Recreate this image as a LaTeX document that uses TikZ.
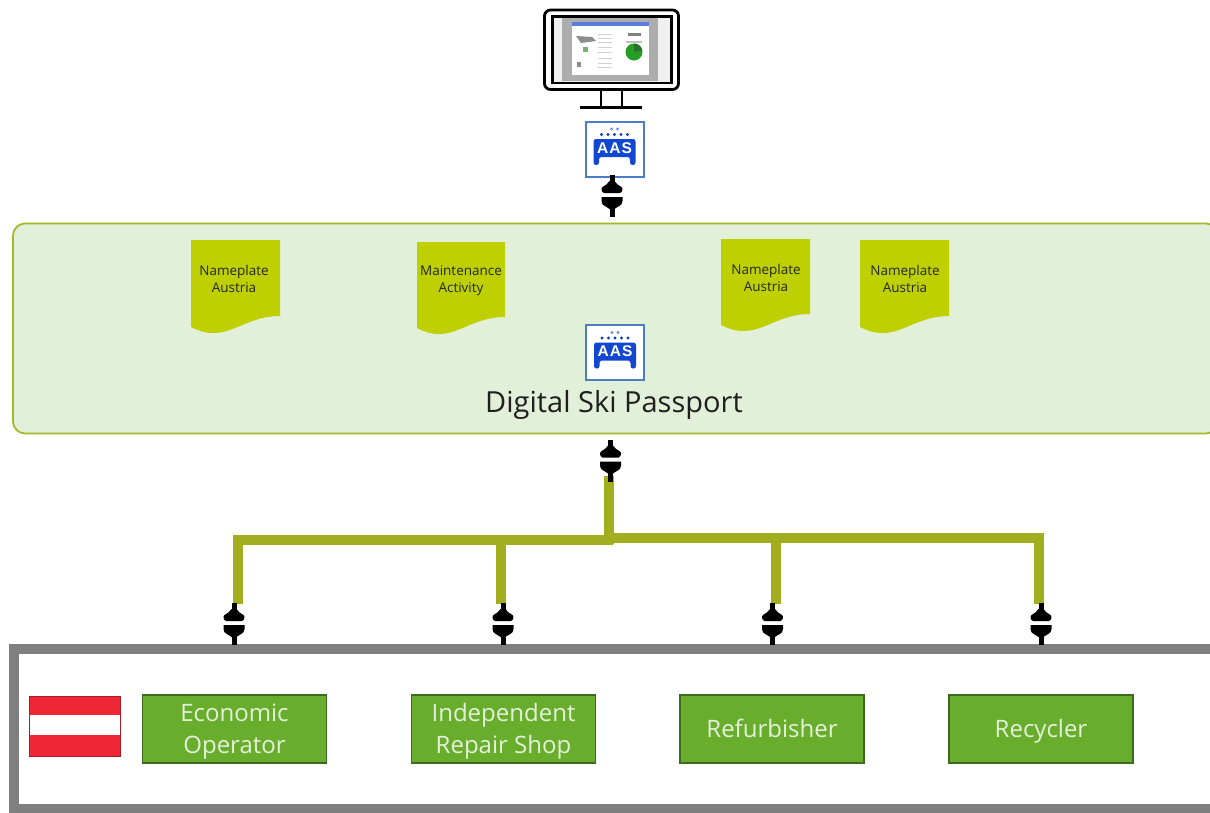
\documentclass[tikz,border=0pt]{standalone}
\usepackage{fontspec}
\setmainfont{Open Sans}
\newfontfamily\aasfont[LetterSpace=7]{Liberation Sans}
\newcommand{\actorstrut}{\rule[-6.5pt]{0pt}{30.5pt}}
\definecolor{panelfill}{HTML}{E2EFD9}
\definecolor{panelline}{HTML}{A4B82A}
\definecolor{docfill}{HTML}{BFD000}
\definecolor{wirecol}{HTML}{A3AE1F}
\definecolor{boxfill}{HTML}{69AD2C}
\definecolor{boxline}{HTML}{3D6B1E}
\definecolor{boxtext}{HTML}{E4F1DA}
\definecolor{framecol}{HTML}{7F7F7F}
\definecolor{aasblue}{HTML}{1247D2}
\definecolor{aasline}{HTML}{4C7CC6}
\definecolor{flagred}{HTML}{EE2636}
\tikzset{
  x=1pt,y=-1pt,
  wire/.style={draw=wirecol,line width=10pt,line cap=butt},
  actor/.style={draw=boxline,line width=1.6pt,fill=boxfill,text=boxtext,minimum width=184pt,minimum height=68pt,inner sep=0pt,align=center,font=\fontsize{24}{32}\selectfont},
  doc/.style={fill=docfill,draw=none},
  doctext/.style={text=black!85,align=center,inner sep=0pt,font=\fontsize{13.5}{17}\selectfont},
  plughit/.style={minimum width=22pt,minimum height=42pt,inner sep=0pt,draw=none},
  aasframe/.style={draw=aasline,line width=2pt,fill=white,minimum width=58pt,minimum height=55pt,inner sep=0pt},
}
% #1 name, #2 x, #3 y
\newcommand{\plugat}[3]{%
  \node[plughit] (#1) at (#2,#3) {};
  \begin{scope}[shift={(#2,#3)}]
    \fill[black] (-2.5,-21) rectangle (2.5,-12);
    \fill[black] (-8,-3) .. controls (-11,-4) and (-11,-8) .. (-9.5,-9) .. controls (-7,-11) and (-3.5,-12) .. (-2.5,-15) -- (2.5,-15) .. controls (3.5,-12) and (7,-11) .. (9.5,-9) .. controls (11,-8) and (11,-4) .. (8,-3) -- cycle;
    \fill[black] (-10.5,1) -- (10.5,1) -- (10.5,5) .. controls (10.5,10) and (5,10.5) .. (2.5,13) -- (-2.5,13) .. controls (-5,10.5) and (-10.5,10) .. (-10.5,5) -- cycle;
    \fill[black] (-2.5,10) rectangle (2.5,21);
  \end{scope}}
% #1 name, #2 x, #3 y
\newcommand{\aasat}[3]{%
  \node[aasframe] (#1) at (#2,#3) {};
  \begin{scope}[shift={(#2,#3)}]
    \fill[aasblue,rounded corners=2.5pt] (-21,-10) -- (21,-10) -- (21,16) -- (15.5,16) -- (15.5,8) -- (-15.5,8) -- (-15.5,16) -- (-21,16) -- cycle;
    \node[text=white,inner sep=0pt,font=\fontsize{15.5}{16}\aasfont\bfseries] at (0,-1) {AAS};
    \foreach \dx in {-13,-6.5,0,6.5,13} \fill[aasblue!85!black] (\dx,-14.5) circle (1.6);
    \foreach \dx in {-3,3} \fill[aasblue!60] (\dx,-20) circle (1.6);
  \end{scope}}
% #1 x-left, #2 y-top, #3 width, #4 height
\newcommand{\docshape}[4]{%
  \begin{scope}[shift={(#1,#2)}]
  \fill[doc] (0,0) -- (#3,0) -- (#3,#4-17)
    .. controls (#3-30,#4-17) and (#3-45,#4) .. (#3*0.25,#4)
    .. controls (#3*0.15,#4) and (#3*0.08,#4-2.5) .. (0,#4-6) -- cycle;
  \end{scope}}
\begin{document}
\begin{tikzpicture}
\clip (0,0) rectangle (1210,812);
\fill[white] (0,0) rectangle (1210,812);

% monitor
\draw[black,line width=2.8pt,rounded corners=6pt,fill=white] (544.5,10) rectangle (678.5,89.5);
\fill[black!6] (553,17) rectangle (671,82);
\fill[black!32] (562,18) rectangle (658,81);
\fill[white] (572,22) rectangle (649,75);
\fill[aasblue!70!white] (572,22) rectangle (649,25.5);
\fill[black!45] (576,36) -- (592,37) -- (596,41) -- (581,43) -- cycle;
\fill[green!45!black!55] (583,47) rectangle (588,52);
\foreach \yy in {34,38,42,47,52,58,63,67} \fill[black!18] (598,\yy) rectangle (612,\yy+1);
\fill[black!45] (577,62) rectangle (581,67);
\fill[black!50] (628,33) rectangle (641,36);
\fill[black!25] (626,41) rectangle (642,42.5);
\fill[green!55!black!85] (634,52) circle (8.5);
\fill[green!35!black!85] (634,52) -- (634,43.5) arc[start angle=-90,end angle=-10,radius=8.5] -- cycle;
\draw[black,line width=2.8pt] (552.5,16.5) rectangle (671.5,83);
\draw[black,line width=2.4pt] (601,90) -- (601,107) (622,90) -- (622,107);
\draw[black,line width=2.4pt] (580,107.5) -- (642,107.5);

% green panel
\node[draw=panelline,line width=1.8pt,fill=panelfill,rounded corners=12pt,minimum width=1205pt,minimum height=210pt,inner sep=0pt] (panel) at (615.5,328.5) {};

% top AAS and plug
\aasat{aastop}{614.5}{149}
\plugat{plugtop}{612}{196}

% documents
\docshape{191}{240}{89}{93}
\docshape{417}{242}{88}{92}
\docshape{721}{239}{89}{92}
\docshape{860}{240}{89}{93}
\node[doctext] (d1) at (234,279) {Nameplate\\Austria};
\node[doctext] (d2) at (461,281) {Maintenance\\Activity};
\node[doctext] (d3) at (766,278) {Nameplate\\Austria};
\node[doctext] (d4) at (905,279) {Nameplate\\Austria};

% panel AAS and title
\aasat{aasmid}{615}{352.5}
\node[inner sep=0pt,text=black!88,font=\fontsize{29}{32}\selectfont] (title) at (614,405) {Digital Ski Passport};

% bottom frame
\draw[framecol,line width=10pt,fill=white] (14,649) rectangle (1225,809);

% wires
\coordinate (wtop) at (608.5,476);
\coordinate (jmid) at (608.5,544);
\coordinate (busL) at (233,540);
\coordinate (busLend) at (613,540);
\coordinate (busR) at (608,538);
\coordinate (busRend) at (1044,538);
\coordinate (jA) at (238,535);
\coordinate (eA) at (238,604);
\coordinate (jB) at (501,535);
\coordinate (eB) at (501,604);
\coordinate (jC) at (776,533);
\coordinate (eC) at (776,604);
\coordinate (jD) at (1039,533);
\coordinate (eD) at (1039,604);
\draw[wire] (wtop) -- (jmid);
\draw[wire] (busL) -- (busLend);
\draw[wire] (busR) -- (busRend);
\draw[wire] (jA) -- (eA);
\draw[wire] (jB) -- (eB);
\draw[wire] (jC) -- (eC);
\draw[wire] (jD) -- (eD);

% plugs
\plugat{plugmid}{610.5}{460.5}
\plugat{plugA}{234}{624}
\plugat{plugB}{503}{624}
\plugat{plugC}{772.5}{624}
\plugat{plugD}{1041}{624}

% flag
\fill[flagred] (29.5,696) rectangle (120,756);
\fill[white] (29.5,715) rectangle (120,735);
\draw[flagred!70!black,line width=0.5pt] (29.5,696) rectangle (120,756);

% actors
\node[actor] (a1) at (234.5,729) {Economic\actorstrut\\Operator\actorstrut};
\node[actor] (a2) at (503.5,729) {Independent\actorstrut\\Repair Shop\actorstrut};
\node[actor] (a3) at (772,729) {Refurbisher\actorstrut};
\node[actor] (a4) at (1041,729) {Recycler\actorstrut};
\end{tikzpicture}
\end{document}
